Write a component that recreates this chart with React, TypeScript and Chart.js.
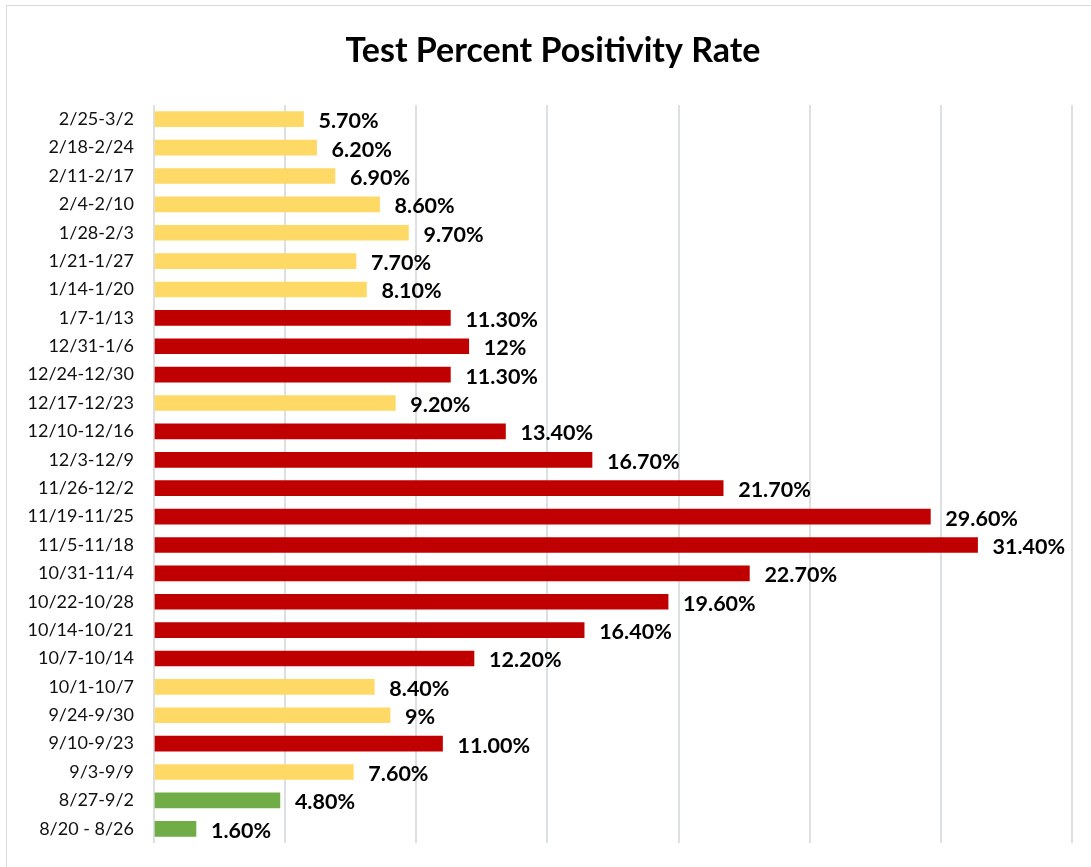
import React, { useEffect, useRef } from "react";
import { Chart, registerables } from "chart.js";

Chart.register(...registerables);

const titleText = "Test Percent Positivity Rate";

const categories = [
  "2/25-3/2", "2/18-2/24", "2/11-2/17", "2/4-2/10", "1/28-2/3", "1/21-1/27", "1/14-1/20",
  "1/7-1/13", "12/31-1/6", "12/24-12/30", "12/17-12/23", "12/10-12/16", "12/3-12/9",
  "11/26-12/2", "11/19-11/25", "11/5-11/18", "10/31-11/4", "10/22-10/28", "10/14-10/21",
  "10/7-10/14", "10/1-10/7", "9/24-9/30", "9/10-9/23", "9/3-9/9", "8/27-9/2", "8/20 - 8/26",
];

const values = [
  5.7, 6.2, 6.9, 8.6, 9.7, 7.7, 8.1, 11.3, 12, 11.3, 9.2, 13.4, 16.7, 21.7, 29.6, 31.4,
  22.7, 19.6, 16.4, 12.2, 8.4, 9, 11.0, 7.6, 4.8, 1.6,
];

const valueLabels = [
  "5.70%", "6.20%", "6.90%", "8.60%", "9.70%", "7.70%", "8.10%", "11.30%", "12%", "11.30%",
  "9.20%", "13.40%", "16.70%", "21.70%", "29.60%", "31.40%", "22.70%", "19.60%", "16.40%",
  "12.20%", "8.40%", "9%", "11.00%", "7.60%", "4.80%", "1.60%",
];

// y = yellow, r = red, g = green
const levels = [
  "y", "y", "y", "y", "y", "y", "y", "r", "r", "r", "y", "r", "r", "r", "r", "r",
  "r", "r", "r", "r", "y", "y", "r", "y", "g", "g",
];

const levelColors: Record<string, string> = { y: "#FFD966", r: "#C00000", g: "#70AD47" };

const FONT = "Lato, 'Open Sans', sans-serif";

const dataLabelPlugin = {
  id: "dataLabels",
  afterDatasetsDraw(chart: any) {
    const ctx = chart.ctx;
    const meta = chart.getDatasetMeta(0);
    ctx.save();
    ctx.font = `bold 21.5px ${FONT}`;
    ctx.fillStyle = "#000";
    ctx.textAlign = "left";
    ctx.textBaseline = "middle";
    meta.data.forEach((bar: any, i: number) => {
      ctx.fillText(valueLabels[i], bar.x + 15, bar.y + 2);
    });
    ctx.restore();
  },
};

const centeredTitlePlugin = {
  id: "centeredTitle",
  afterDraw(chart: any) {
    const ctx = chart.ctx;
    ctx.save();
    ctx.font = `bold 34px ${FONT}`;
    ctx.fillStyle = "#000";
    ctx.textAlign = "center";
    ctx.textBaseline = "middle";
    ctx.fillText(titleText, chart.width / 2, 45);
    ctx.restore();
  },
};

export default function App() {
  const ref = useRef<HTMLCanvasElement>(null);
  useEffect(() => {
    if (!ref.current) return;
    const chart = new Chart(ref.current, {
      type: "bar",
      data: {
        labels: categories,
        datasets: [
          {
            data: values,
            backgroundColor: levels.map((l) => levelColors[l]),
            barThickness: 15,
          },
        ],
      },
      plugins: [dataLabelPlugin, centeredTitlePlugin],
      options: {
        indexAxis: "y",
        responsive: false,
        animation: false,
        layout: { padding: { top: 99, right: 27, bottom: 33, left: 0 } },
        plugins: {
          legend: { display: false },
          tooltip: { enabled: false },
          title: { display: false },
        },
        scales: {
          x: {
            min: 0,
            max: 35,
            ticks: { display: false, stepSize: 5 },
            grid: { color: "#dcdfe4", lineWidth: 2, drawTicks: false },
            border: { display: false },
            afterFit: (scale: any) => {
              scale.height = 0;
            },
          },
          y: {
            grid: { display: false, drawTicks: false },
            border: { display: false },
            ticks: {
              color: "#111",
              padding: 20,
              font: { family: FONT, size: 18 },
              autoSkip: false,
            },
            afterFit: (scale: any) => {
              scale.width = 147;
            },
          },
        },
      },
    });
    return () => chart.destroy();
  }, []);

  return (
    <div
      style={{
        position: "fixed",
        left: 0,
        top: 0,
        width: 1091,
        height: 867,
        overflow: "hidden",
        background: "#fff",
      }}
    >
      <div
        style={{
          position: "absolute",
          left: 6,
          top: 5,
          width: 1120,
          height: 900,
          border: "1px solid #d9d9d9",
          boxSizing: "border-box",
        }}
      />
      <canvas
        ref={ref}
        width={1092}
        height={870}
        style={{ position: "absolute", left: 7, top: 6, width: 1092, height: 870 }}
      />
    </div>
  );
}
